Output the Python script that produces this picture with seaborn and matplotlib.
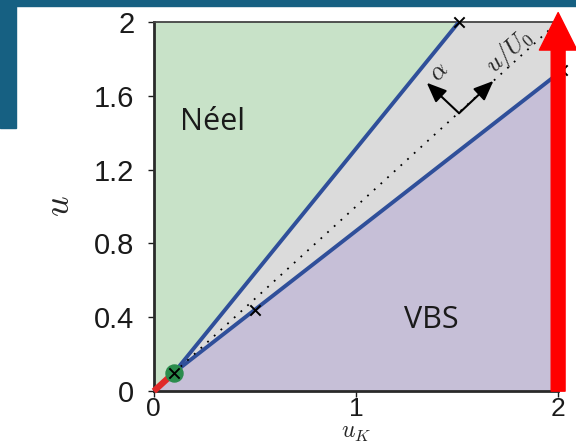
import matplotlib
matplotlib.use("Agg")
import matplotlib.pyplot as plt
from matplotlib.patches import FancyArrowPatch, Rectangle
import pandas as pd
import seaborn as sns

# Phase boundaries in the (u_K, u) plane
tri_uk, tri_u = 0.1, 0.1                      # tricritical / multicritical point
neel_uk = [0.1, 1.51]                         # Néel boundary
neel_u = [0.1, 2.0]
vbs_uk = [0.1, 2.0]                           # VBS boundary
vbs_u = [0.1, 1.72]
diag_uk = [0.1, 1.97]                         # u/U0 direction
diag_u = [0.1, 1.97]
cross_uk = [0.1, 0.5, 1.51, 2.02]
cross_u = [0.1, 0.44, 2.0, 1.74]

xticks = [0, 1, 2]
yticks = [0, 0.4, 0.8, 1.2, 1.6, 2]
ytick_labels = ["0", "0.4", "0.8", "1.2", "1.6", "2"]

sns.set_style("ticks")
plt.rcParams["font.family"] = ["Liberation Sans", "DejaVu Sans"]
plt.rcParams["mathtext.fontset"] = "cm"

fig = plt.figure(figsize=(5.76, 4.45), dpi=100)
# slide banner
banner = "#166082"
fig.patches.append(Rectangle((0, 0.986), 1, 0.014, transform=fig.transFigure,
                             color=banner, zorder=0))
fig.patches.append(Rectangle((0, 0.712), 0.028, 0.29, transform=fig.transFigure,
                             color=banner, zorder=0))

ax = fig.add_axes([0.267, 0.121, 0.702, 0.830])
ax.set_xlim(0, 2)
ax.set_ylim(0, 2)

# phase regions
ax.fill([0, tri_uk, neel_uk[1], 0], [0, tri_u, neel_u[1], 2], color="#c8e2c8", lw=0, zorder=0)
ax.fill([tri_uk, neel_uk[1], 2, vbs_uk[1]], [tri_u, neel_u[1], 2, vbs_u[1]],
        color="#dbdbdb", lw=0, zorder=0)
ax.fill([0, 2, vbs_uk[1], tri_uk], [0, 0, vbs_u[1], tri_u], color="#c6bfd7", lw=0, zorder=0)

lines = pd.DataFrame({
    "uk": neel_uk + vbs_uk,
    "u": neel_u + vbs_u,
    "boundary": ["Néel"] * 2 + ["VBS"] * 2,
})
sns.lineplot(data=lines, x="uk", y="u", hue="boundary", units="boundary",
             estimator=None, palette=["#2f4f9a", "#2f4f9a"], lw=2.8,
             legend=False, ax=ax, zorder=3, sort=False)
ax.plot(diag_uk, diag_u, ls=(0, (1, 4)), color="black", lw=1.3, zorder=3)
ax.plot([0, tri_uk], [0, tri_u], color="#e02a2a", lw=4.5, zorder=4,
        solid_capstyle="butt", clip_on=False)
ax.scatter([tri_uk], [tri_u], s=150, color="#2a8c4c", zorder=5, clip_on=False)
ax.scatter(cross_uk, cross_u, marker="x", s=55, color="black", lw=1.4, zorder=6,
           clip_on=False)

# direction arrows
corner = (1.51, 1.505)
for tip in [(1.35, 1.67), (1.68, 1.68)]:
    ax.annotate("", xy=tip, xytext=corner,
                arrowprops=dict(arrowstyle="-|>,head_length=1.2,head_width=0.5",
                                color="black", lw=1.5, shrinkA=0, shrinkB=0),
                zorder=7)
ax.text(1.41, 1.73, r"$\alpha$", fontsize=18, rotation=45, ha="center", va="center",
        zorder=7)
ax.text(1.76, 1.84, r"$u/U_0$", fontsize=18, rotation=42, ha="center", va="center",
        zorder=7)

ax.text(0.13, 1.46, "Néel", fontsize=22, family=["Open Sans", "DejaVu Sans"],
        va="center", ha="left", color="#1a1a1a")
ax.text(1.24, 0.385, "VBS", fontsize=22, family=["Open Sans", "DejaVu Sans"],
        va="center", ha="left", color="#1a1a1a")

# large red arrow along u_K = 2
big = FancyArrowPatch(posA=(2.0, 0.0), posB=(2.0, 2.05),
                      arrowstyle="simple,head_length=27,head_width=27,tail_width=10",
                      mutation_scale=1, color="#ff0000", shrinkA=0, shrinkB=0,
                      transform=ax.transData, clip_on=False, zorder=8)
ax.add_patch(big)

ax.set_xticks(xticks)
ax.set_xticklabels([str(t) for t in xticks])
ax.set_yticks(yticks)
ax.set_yticklabels(ytick_labels)
ax.tick_params(axis="both", labelsize=21, length=4, width=1, direction="out",
               colors="#1a1a1a")
ax.tick_params(axis="y", pad=10)
ax.tick_params(axis="x", pad=0, labelsize=19)

for side in ["left", "bottom"]:
    ax.spines[side].set_linewidth(2)
    ax.spines[side].set_color("#2a2a2a")
ax.spines["top"].set_linewidth(1.3)
ax.spines["top"].set_color("#444444")
ax.spines["right"].set_visible(False)

ax.set_xlabel(r"$u_K$", fontsize=17)
ax.xaxis.set_label_coords(0.5, -0.114)
ax.xaxis.label.set_va("center")
ax.set_ylabel(r"$u$", fontsize=26, labelpad=12)

fig.savefig("out.png", dpi=100)
